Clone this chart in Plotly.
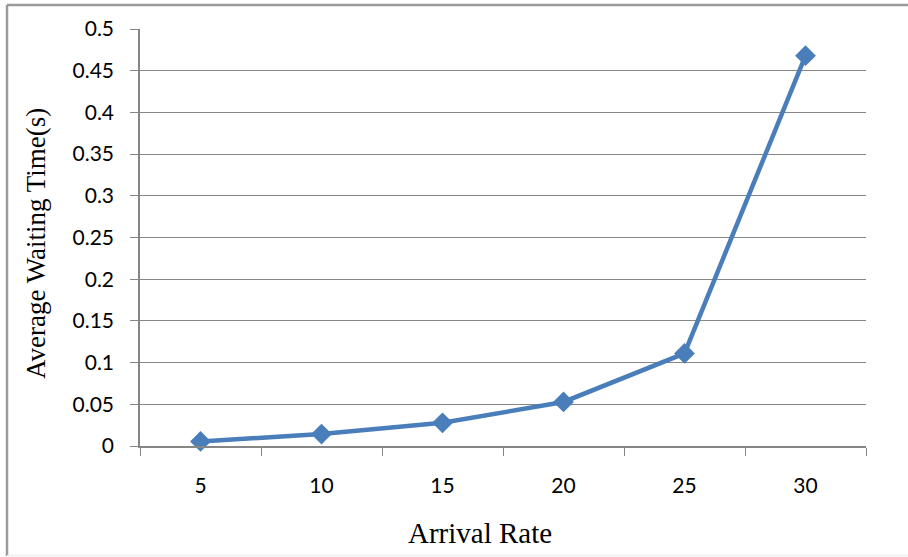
import plotly.graph_objects as go

categories = ["5", "10", "15", "20", "25", "30"]
waiting_time = [0.0055, 0.0143, 0.0278, 0.0528, 0.111, 0.468]
y_ticks = [0, 0.05, 0.1, 0.15, 0.2, 0.25, 0.3, 0.35, 0.4, 0.45, 0.5]
y_tick_labels = ["0", "0.05", "0.1", "0.15", "0.2", "0.25", "0.3", "0.35", "0.4", "0.45", "0.5"]

W, H = 908, 557
L, R, T, B = 140, 866, 29, 446
pw, ph = R - L, B - T

def px(x):
    return (x - L) / pw

def py(y):
    return (B - y) / ph

fig = go.Figure()
fig.add_trace(go.Scatter(
    x=categories, y=waiting_time, mode="lines+markers",
    line=dict(color="#4A7EBB", width=4.5),
    marker=dict(symbol="diamond", size=16, color="#4A7EBB"),
    showlegend=False, cliponaxis=False,
))

tick_font = dict(family="Lato, Open Sans, sans-serif", size=21, color="#000000")
fig.update_xaxes(
    type="category", range=[-0.5, 5.5], tickson="boundaries",
    ticks="outside", ticklen=8, tickcolor="#868686", tickwidth=1.3,
    showgrid=False, showline=True, linecolor="#868686", linewidth=1.5,
    tickfont=tick_font, ticklabelstandoff=20, zeroline=False,
)
fig.update_yaxes(
    range=[0, 0.5], tickvals=y_ticks, ticktext=y_tick_labels,
    ticks="outside", ticklen=8, tickcolor="#868686", tickwidth=1.3,
    showgrid=True, gridcolor="#868686", gridwidth=1.3,
    showline=True, linecolor="#868686", linewidth=1.5,
    tickfont=tick_font, ticklabelstandoff=12, zeroline=False,
)

serif = "Liberation Serif, Times New Roman, serif"
fig.add_annotation(text="Arrival Rate", xref="paper", yref="paper",
                   x=px(480), y=py(533), showarrow=False,
                   font=dict(family=serif, size=29, color="#000000"),
                   xanchor="center", yanchor="middle")
fig.add_annotation(text="Average Waiting Time(s)", xref="paper", yref="paper",
                   x=px(36), y=py(244), showarrow=False,
                   font=dict(family=serif, size=27, color="#000000"),
                   textangle=-90, xanchor="center", yanchor="middle")

# chart border
fig.add_shape(type="line", xref="paper", yref="paper",
              x0=px(7), x1=px(7), y0=py(5), y1=py(556),
              line=dict(color="#9A9A9A", width=2.5))
fig.add_shape(type="line", xref="paper", yref="paper",
              x0=px(7), x1=px(910), y0=py(5), y1=py(5),
              line=dict(color="#9A9A9A", width=2.5))
fig.add_shape(type="line", xref="paper", yref="paper",
              x0=px(7), x1=px(910), y0=py(555.5), y1=py(555.5),
              line=dict(color="#EEEEEE", width=1.5))

fig.update_layout(
    width=W, height=H,
    margin=dict(l=L, r=W - R, t=T, b=H - B, pad=0),
    paper_bgcolor="white", plot_bgcolor="white",
)

fig.write_html("out.html", config={"displayModeBar": False},
               post_script="document.body.style.margin='0';")
